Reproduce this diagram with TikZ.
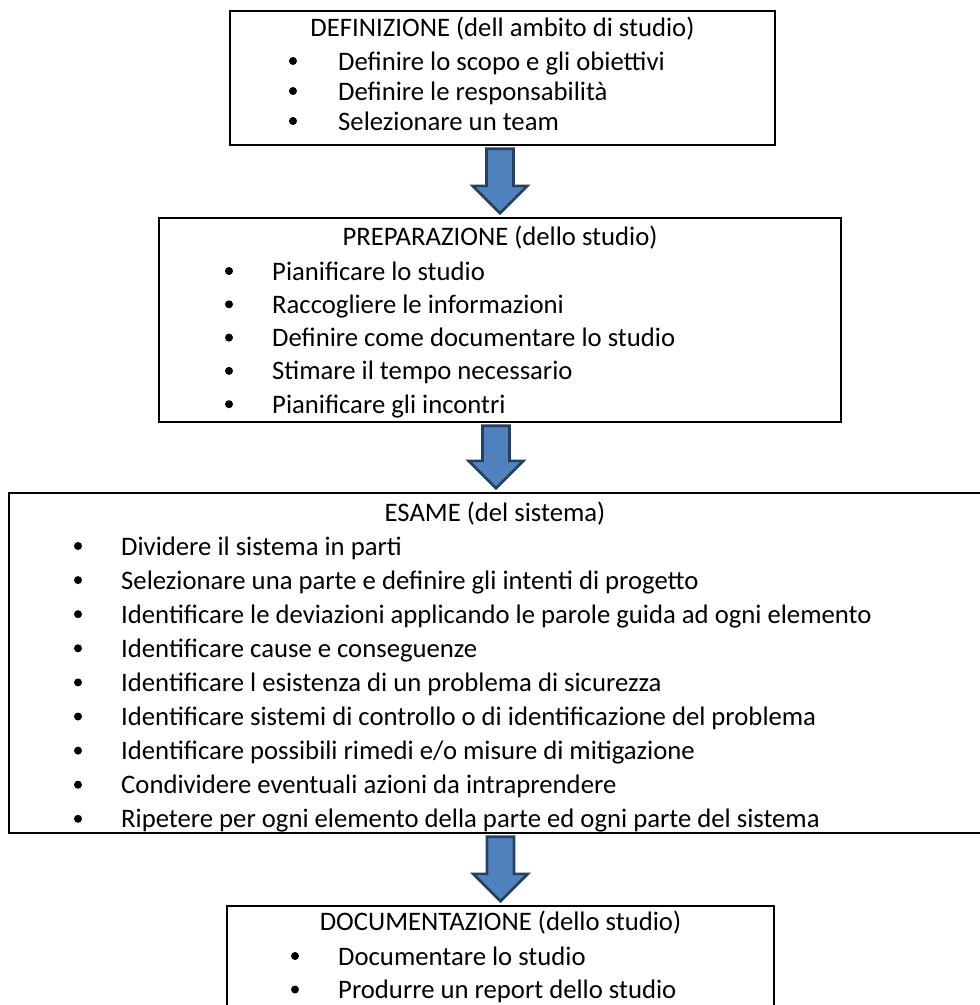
\documentclass[tikz,border=0pt]{standalone}
\usepackage{fontspec}
\setmainfont{Carlito}
\usetikzlibrary{calc}
\definecolor{arrfill}{HTML}{4F81BD}
\definecolor{arrline}{HTML}{243F60}
\tikzset{
  boxnode/.style={draw=black, line width=2.4pt, inner sep=0pt, rectangle},
  txt/.style={inner sep=0pt, anchor=base west, font=\fontsize{26.7}{30}\selectfont},
  ttl/.style={inner sep=0pt, anchor=base, font=\fontsize{26.7}{30}\selectfont},
  arr/.style={draw=arrline, fill=arrfill, line width=2.6pt, line join=miter},
}
\newcommand\flowarrow[2]{%
  \path (#1.south -| #2.north) coordinate (fa-s) (#2.north) coordinate (fa-e);
  \draw[arr] ($(fa-s)+(-13.5,2.5)$) -- ($(fa-s)+(13.5,2.5)$) -- ($(fa-e)+(13.5,-31)$)
    -- ($(fa-e)+(27.5,-31)$) -- ($(fa-e)+(0,-3.5)$) -- ($(fa-e)+(-27.5,-31)$)
    -- ($(fa-e)+(-13.5,-31)$) -- cycle;
}
\begin{document}
\begin{tikzpicture}[x=1pt,y=-1pt]
\useasboundingbox (0,0) rectangle (980,1005);
% boxes
\node[boxnode, minimum width=545pt, minimum height=134pt] (b1) at (502.5,78) {};
\node[boxnode, minimum width=682pt, minimum height=204pt] (b2) at (500,320) {};
\node[boxnode, minimum width=974pt, minimum height=340pt] (b3) at (496,663) {};
\node[boxnode, minimum width=547pt, minimum height=130pt] (b4) at (500.5,971) {};
% arrows
\flowarrow{b1}{b2}
\flowarrow{b2}{b3}
\flowarrow{b3}{b4}
% box 1
\node[ttl] (t1) at (502.5,36) {DEFINIZIONE (dell ambito di studio)};
\foreach [count=\i] \t in {Definire lo scopo e gli obiettivi, Definire le responsabilità, Selezionare un team} {
  \fill (293,{70+30*(\i-1)-9}) circle (4);
  \node[txt] (t1i\i) at (338,{70+30*(\i-1)}) {\t};
}
% box 2
\node[ttl] (t2) at (500,245) {PREPARAZIONE (dello studio)};
\foreach [count=\i] \t in {Pianificare lo studio, Raccogliere le informazioni, Definire come documentare lo studio, Stimare il tempo necessario, Pianificare gli incontri} {
  \fill (229,{280+33.3*(\i-1)-9}) circle (4);
  \node[txt] (t2i\i) at (272,{280+33.3*(\i-1)}) {\t};
}
% box 3
\node[ttl] (t3) at (495,521) {ESAME (del sistema)};
\foreach [count=\i] \t in {Dividere il sistema in parti, Selezionare una parte e definire gli intenti di progetto, Identificare le deviazioni applicando le parole guida ad ogni elemento, Identificare cause e conseguenze, Identificare l esistenza di un problema di sicurezza, Identificare sistemi di controllo o di identificazione del problema, Identificare possibili rimedi e/o misure di mitigazione, Condividere eventuali azioni da intraprendere, Ripetere per ogni elemento della parte ed ogni parte del sistema} {
  \fill (78,{555+34.1*(\i-1)-9}) circle (4);
  \node[txt] (t3i\i) at (121,{555+34.1*(\i-1)}) {\t};
}
% box 4
\node[ttl] (t4) at (500.5,930) {DOCUMENTAZIONE (dello studio)};
\foreach [count=\i] \t in {Documentare lo studio, Produrre un report dello studio} {
  \fill (295,{965+33.5*(\i-1)-9}) circle (4);
  \node[txt] (t4i\i) at (338,{965+33.5*(\i-1)}) {\t};
}
\end{tikzpicture}
\end{document}
